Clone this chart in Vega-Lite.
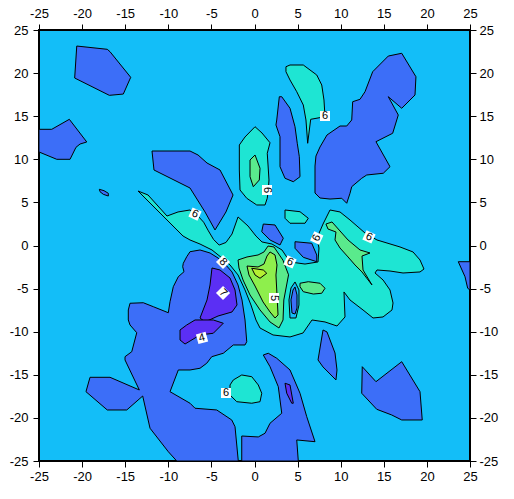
{
"$schema":"https://vega.github.io/schema/vega-lite/v6.json",
"width":431,"height":431,
"autosize":{"type":"none"},
"padding":{"left":39,"top":30,"right":44,"bottom":38},
"background":"white",
"config":{"view":{"fill":"#13BEF8","stroke":"black","strokeWidth":2},
"axis":{"domain":false,"grid":false,"ticks":true,"tickColor":"black","tickSize":6,"tickWidth":1,"labelFont":"Liberation Sans","labelFontSize":13,"labelColor":"black","labelFlush":false,"labelOverlap":false,"title":null}},
"datasets":{
"poly":[
{"id":"A","l":"b","i":0,"x":-20.62,"y":23.14},{"id":"A","l":"b","i":1,"x":-17.08,"y":22.76},{"id":"A","l":"b","i":2,"x":-16.76,"y":22.48},{"id":"A","l":"b","i":3,"x":-14.36,"y":19.51},{"id":"A","l":"b","i":4,"x":-15.22,"y":17.57},{"id":"A","l":"b","i":5,"x":-16.84,"y":17.42},{"id":"A","l":"b","i":6,"x":-20.86,"y":19.43},
{"id":"B","l":"b","i":0,"x":-25,"y":13.48},{"id":"B","l":"b","i":1,"x":-23.52,"y":13.48},{"id":"B","l":"b","i":2,"x":-21.48,"y":14.64},{"id":"B","l":"b","i":3,"x":-19.46,"y":12.01},{"id":"B","l":"b","i":4,"x":-20.24,"y":11.77},{"id":"B","l":"b","i":5,"x":-20.71,"y":11.39},{"id":"B","l":"b","i":6,"x":-21.4,"y":10.0},{"id":"B","l":"b","i":7,"x":-22.94,"y":10.0},{"id":"B","l":"b","i":8,"x":-25,"y":10.85},
{"id":"C","l":"b","i":0,"x":-11.89,"y":10.96},{"id":"C","l":"b","i":1,"x":-7.48,"y":10.96},{"id":"C","l":"b","i":2,"x":-6.55,"y":10.5},{"id":"C","l":"b","i":3,"x":-5.51,"y":9.57},{"id":"C","l":"b","i":4,"x":-4.0,"y":8.76},{"id":"C","l":"b","i":5,"x":-2.49,"y":5.86},{"id":"C","l":"b","i":6,"x":-3.31,"y":3.89},{"id":"C","l":"b","i":7,"x":-4.58,"y":1.8},{"id":"C","l":"b","i":8,"x":-5.74,"y":3.89},{"id":"C","l":"b","i":9,"x":-7.48,"y":6.67},{"id":"C","l":"b","i":10,"x":-11.66,"y":8.76},
{"id":"D","l":"b","i":0,"x":7.02,"y":9.22},{"id":"D","l":"b","i":1,"x":7.13,"y":10.38},{"id":"D","l":"b","i":2,"x":7.6,"y":11.43},{"id":"D","l":"b","i":3,"x":8.41,"y":12.82},{"id":"D","l":"b","i":4,"x":9.92,"y":13.86},{"id":"D","l":"b","i":5,"x":10.7,"y":13.86},{"id":"D","l":"b","i":6,"x":11.28,"y":14.56},{"id":"D","l":"b","i":7,"x":11.39,"y":16.68},{"id":"D","l":"b","i":8,"x":12.24,"y":16.96},{"id":"D","l":"b","i":9,"x":12.82,"y":17.84},{"id":"D","l":"b","i":10,"x":13.71,"y":20.16},{"id":"D","l":"b","i":11,"x":15.52,"y":21.98},{"id":"D","l":"b","i":12,"x":17.08,"y":22.3},{"id":"D","l":"b","i":13,"x":18.73,"y":19.58},{"id":"D","l":"b","i":14,"x":18.62,"y":17.46},{"id":"D","l":"b","i":15,"x":17.08,"y":15.92},{"id":"D","l":"b","i":16,"x":15.52,"y":17.26},{"id":"D","l":"b","i":17,"x":16.68,"y":15.14},{"id":"D","l":"b","i":18,"x":16.03,"y":13.02},{"id":"D","l":"b","i":19,"x":14.09,"y":12.04},{"id":"D","l":"b","i":20,"x":15.72,"y":9.14},{"id":"D","l":"b","i":21,"x":14.94,"y":8.38},{"id":"D","l":"b","i":22,"x":13.02,"y":8.18},{"id":"D","l":"b","i":23,"x":12.44,"y":7.8},{"id":"D","l":"b","i":24,"x":11.28,"y":6.82},{"id":"D","l":"b","i":25,"x":11.08,"y":6.06},{"id":"D","l":"b","i":26,"x":10.7,"y":4.9},{"id":"D","l":"b","i":27,"x":10.12,"y":5.48},{"id":"D","l":"b","i":28,"x":8.76,"y":5.39},{"id":"D","l":"b","i":29,"x":7.6,"y":5.51},{"id":"D","l":"b","i":30,"x":7.02,"y":6.09},
{"id":"E","l":"b","i":0,"x":2.88,"y":17.26},{"id":"E","l":"b","i":1,"x":3.16,"y":17.26},{"id":"E","l":"b","i":2,"x":4.12,"y":15.92},{"id":"E","l":"b","i":3,"x":4.7,"y":13.78},{"id":"E","l":"b","i":4,"x":4.96,"y":11.86},{"id":"E","l":"b","i":5,"x":5.2,"y":10.3},{"id":"E","l":"b","i":6,"x":5.28,"y":7.98},{"id":"E","l":"b","i":7,"x":4.5,"y":7.4},{"id":"E","l":"b","i":8,"x":3.54,"y":7.8},{"id":"E","l":"b","i":9,"x":2.96,"y":9.14},{"id":"E","l":"b","i":10,"x":2.96,"y":12.62},{"id":"E","l":"b","i":11,"x":2.49,"y":13.98},{"id":"E","l":"b","i":12,"x":2.58,"y":14.56},
{"id":"Q1","l":"b","i":0,"x":1.02,"y":2.49},{"id":"Q1","l":"b","i":1,"x":2.38,"y":2.38},{"id":"Q1","l":"b","i":2,"x":3.34,"y":0.84},{"id":"Q1","l":"b","i":3,"x":2.96,"y":0.06},{"id":"Q1","l":"b","i":4,"x":1.8,"y":0.64},{"id":"Q1","l":"b","i":5,"x":0.84,"y":1.6},
{"id":"Q2","l":"b","i":0,"x":4.7,"y":0.44},{"id":"Q2","l":"b","i":1,"x":6.64,"y":0.26},{"id":"Q2","l":"b","i":2,"x":7.22,"y":-1.1},{"id":"Q2","l":"b","i":3,"x":7.22,"y":-1.88},{"id":"Q2","l":"b","i":4,"x":5.66,"y":-1.37},{"id":"Q2","l":"b","i":5,"x":4.7,"y":-0.32},
{"id":"F","l":"b","i":0,"x":-14.44,"y":-6.7},{"id":"F","l":"b","i":1,"x":-12.9,"y":-6.64},{"id":"F","l":"b","i":2,"x":-11.74,"y":-7.1},{"id":"F","l":"b","i":3,"x":-10.0,"y":-7.8},{"id":"F","l":"b","i":4,"x":-9.8,"y":-6.52},{"id":"F","l":"b","i":5,"x":-9.42,"y":-4.78},{"id":"F","l":"b","i":6,"x":-8.84,"y":-3.62},{"id":"F","l":"b","i":7,"x":-8.18,"y":-3.04},{"id":"F","l":"b","i":8,"x":-8.33,"y":-2.46},{"id":"F","l":"b","i":9,"x":-8.26,"y":-2.06},{"id":"F","l":"b","i":10,"x":-7.86,"y":-1.3},{"id":"F","l":"b","i":11,"x":-7.48,"y":-0.72},{"id":"F","l":"b","i":12,"x":-6.32,"y":-0.52},{"id":"F","l":"b","i":13,"x":-5.16,"y":-0.87},{"id":"F","l":"b","i":14,"x":-4.23,"y":-1.45},{"id":"F","l":"b","i":15,"x":-3.42,"y":-2.15},{"id":"F","l":"b","i":16,"x":-2.61,"y":-3.07},{"id":"F","l":"b","i":17,"x":-1.91,"y":-4.58},{"id":"F","l":"b","i":18,"x":-1.45,"y":-6.32},{"id":"F","l":"b","i":19,"x":-1.1,"y":-8.64},{"id":"F","l":"b","i":20,"x":-0.9,"y":-11.16},{"id":"F","l":"b","i":21,"x":-1.1,"y":-11.54},{"id":"F","l":"b","i":22,"x":-2.46,"y":-11.54},{"id":"F","l":"b","i":23,"x":-3.62,"y":-12.5},{"id":"F","l":"b","i":24,"x":-4.96,"y":-12.9},{"id":"F","l":"b","i":25,"x":-5.54,"y":-13.66},{"id":"F","l":"b","i":26,"x":-6.32,"y":-14.24},{"id":"F","l":"b","i":27,"x":-7.48,"y":-14.44},{"id":"F","l":"b","i":28,"x":-8.84,"y":-14.44},{"id":"F","l":"b","i":29,"x":-9.8,"y":-16.96},{"id":"F","l":"b","i":30,"x":-7.48,"y":-18.3},{"id":"F","l":"b","i":31,"x":-6.9,"y":-18.88},{"id":"F","l":"b","i":32,"x":-4.38,"y":-19.08},{"id":"F","l":"b","i":33,"x":-2.64,"y":-20.24},{"id":"F","l":"b","i":34,"x":-2.26,"y":-21.02},{"id":"F","l":"b","i":35,"x":-1.88,"y":-25},{"id":"F","l":"b","i":36,"x":-9.02,"y":-25},{"id":"F","l":"b","i":37,"x":-10.0,"y":-23.92},{"id":"F","l":"b","i":38,"x":-12.12,"y":-21.2},{"id":"F","l":"b","i":39,"x":-12.97,"y":-17.46},{"id":"F","l":"b","i":40,"x":-14.82,"y":-19.08},{"id":"F","l":"b","i":41,"x":-17.08,"y":-19.08},{"id":"F","l":"b","i":42,"x":-19.55,"y":-16.96},{"id":"F","l":"b","i":43,"x":-19.08,"y":-15.29},{"id":"F","l":"b","i":44,"x":-16.76,"y":-15.29},{"id":"F","l":"b","i":45,"x":-13.36,"y":-16.76},{"id":"F","l":"b","i":46,"x":-15.02,"y":-13.28},{"id":"F","l":"b","i":47,"x":-15.02,"y":-12.9},{"id":"F","l":"b","i":48,"x":-14.24,"y":-12.32},{"id":"F","l":"b","i":49,"x":-13.66,"y":-10.12},{"id":"F","l":"b","i":50,"x":-14.44,"y":-9.22},{"id":"F","l":"b","i":51,"x":-14.64,"y":-8.64},{"id":"F","l":"b","i":52,"x":-14.64,"y":-7.48},
{"id":"Gb","l":"b","i":0,"x":-1.48,"y":-25},{"id":"Gb","l":"b","i":1,"x":-1.48,"y":-22.1},{"id":"Gb","l":"b","i":2,"x":0.44,"y":-22.21},{"id":"Gb","l":"b","i":3,"x":1.22,"y":-21.78},{"id":"Gb","l":"b","i":4,"x":1.8,"y":-20.62},{"id":"Gb","l":"b","i":5,"x":3.16,"y":-19.46},{"id":"Gb","l":"b","i":6,"x":2.76,"y":-16.38},{"id":"Gb","l":"b","i":7,"x":1.8,"y":-14.06},{"id":"Gb","l":"b","i":8,"x":1.02,"y":-12.7},{"id":"Gb","l":"b","i":9,"x":1.6,"y":-12.5},{"id":"Gb","l":"b","i":10,"x":2.58,"y":-13.08},{"id":"Gb","l":"b","i":11,"x":4.12,"y":-14.44},{"id":"Gb","l":"b","i":12,"x":5.28,"y":-17.14},{"id":"Gb","l":"b","i":13,"x":6.06,"y":-19.86},{"id":"Gb","l":"b","i":14,"x":7.02,"y":-22.76},{"id":"Gb","l":"b","i":15,"x":4.9,"y":-22.56},{"id":"Gb","l":"b","i":16,"x":5.08,"y":-25},
{"id":"H","l":"b","i":0,"x":7.95,"y":-9.8},{"id":"H","l":"b","i":1,"x":8.41,"y":-10.03},{"id":"H","l":"b","i":2,"x":9.34,"y":-12.47},{"id":"H","l":"b","i":3,"x":9.57,"y":-14.44},{"id":"H","l":"b","i":4,"x":9.45,"y":-15.6},{"id":"H","l":"b","i":5,"x":7.95,"y":-14.09},{"id":"H","l":"b","i":6,"x":7.37,"y":-13.28},
{"id":"I","l":"b","i":0,"x":12.5,"y":-14.06},{"id":"I","l":"b","i":1,"x":14.09,"y":-15.8},{"id":"I","l":"b","i":2,"x":17.08,"y":-13.48},{"id":"I","l":"b","i":3,"x":19.2,"y":-16.96},{"id":"I","l":"b","i":4,"x":19.46,"y":-20.24},{"id":"I","l":"b","i":5,"x":17.08,"y":-20.24},{"id":"I","l":"b","i":6,"x":15.92,"y":-19.66},{"id":"I","l":"b","i":7,"x":14.18,"y":-19.0},{"id":"I","l":"b","i":8,"x":12.44,"y":-17.14},
{"id":"J","l":"b","i":0,"x":23.64,"y":-1.88},{"id":"J","l":"b","i":1,"x":25,"y":-1.88},{"id":"J","l":"b","i":2,"x":25,"y":-5.16},{"id":"J","l":"b","i":3,"x":24.73,"y":-4.96},{"id":"J","l":"b","i":4,"x":24.42,"y":-3.62},
{"id":"K","l":"b","i":0,"x":-18.0,"y":6.52},{"id":"K","l":"b","i":1,"x":-17.46,"y":6.36},{"id":"K","l":"b","i":2,"x":-16.96,"y":6.06},{"id":"K","l":"b","i":3,"x":-16.96,"y":5.74},{"id":"K","l":"b","i":4,"x":-17.54,"y":5.94},{"id":"K","l":"b","i":5,"x":-17.92,"y":6.24},
{"id":"PA","l":"p","i":0,"x":-4.93,"y":-2.61},{"id":"PA","l":"p","i":1,"x":-4.0,"y":-2.84},{"id":"PA","l":"p","i":2,"x":-2.84,"y":-3.77},{"id":"PA","l":"p","i":3,"x":-2.26,"y":-5.16},{"id":"PA","l":"p","i":4,"x":-2.03,"y":-6.9},{"id":"PA","l":"p","i":5,"x":-2.61,"y":-7.71},{"id":"PA","l":"p","i":6,"x":-4.23,"y":-8.18},{"id":"PA","l":"p","i":7,"x":-5.74,"y":-8.87},{"id":"PA","l":"p","i":8,"x":-6.32,"y":-8.41},{"id":"PA","l":"p","i":9,"x":-5.51,"y":-6.32},{"id":"PA","l":"p","i":10,"x":-5.16,"y":-4.58},
{"id":"PB","l":"p","i":0,"x":-8.64,"y":-9.8},{"id":"PB","l":"p","i":1,"x":-7.86,"y":-9.22},{"id":"PB","l":"p","i":2,"x":-6.9,"y":-8.64},{"id":"PB","l":"p","i":3,"x":-4.78,"y":-8.64},{"id":"PB","l":"p","i":4,"x":-3.62,"y":-9.02},{"id":"PB","l":"p","i":5,"x":-4.78,"y":-10.18},{"id":"PB","l":"p","i":6,"x":-6.32,"y":-10.38},{"id":"PB","l":"p","i":7,"x":-6.9,"y":-10.73},{"id":"PB","l":"p","i":8,"x":-8.06,"y":-11.43},{"id":"PB","l":"p","i":9,"x":-8.64,"y":-10.96},
{"id":"PC","l":"p","i":0,"x":3.54,"y":-15.98},{"id":"PC","l":"p","i":1,"x":4.12,"y":-16.18},{"id":"PC","l":"p","i":2,"x":4.5,"y":-18.3},{"id":"PC","l":"p","i":3,"x":4.32,"y":-18.3},{"id":"PC","l":"p","i":4,"x":3.74,"y":-17.14},
{"id":"T1","l":"t","i":0,"x":3.65,"y":20.74},{"id":"T1","l":"t","i":1,"x":4.12,"y":20.94},{"id":"T1","l":"t","i":2,"x":5.66,"y":20.94},{"id":"T1","l":"t","i":3,"x":7.22,"y":19.78},{"id":"T1","l":"t","i":4,"x":7.8,"y":18.62},{"id":"T1","l":"t","i":5,"x":8.06,"y":16.88},{"id":"T1","l":"t","i":6,"x":8.18,"y":14.94},{"id":"T1","l":"t","i":7,"x":6.52,"y":14.64},{"id":"T1","l":"t","i":8,"x":6.17,"y":11.86},{"id":"T1","l":"t","i":9,"x":5.97,"y":14.56},{"id":"T1","l":"t","i":10,"x":5.66,"y":16.3},{"id":"T1","l":"t","i":11,"x":4.9,"y":17.84},{"id":"T1","l":"t","i":12,"x":4.12,"y":19.2},{"id":"T1","l":"t","i":13,"x":3.65,"y":20.16},
{"id":"T2","l":"t","i":0,"x":-1.76,"y":11.66},{"id":"T2","l":"t","i":1,"x":-1.1,"y":12.59},{"id":"T2","l":"t","i":2,"x":0.06,"y":13.78},{"id":"T2","l":"t","i":3,"x":0.87,"y":13.05},{"id":"T2","l":"t","i":4,"x":1.8,"y":11.92},{"id":"T2","l":"t","i":5,"x":1.48,"y":10.7},{"id":"T2","l":"t","i":6,"x":1.57,"y":9.34},{"id":"T2","l":"t","i":7,"x":1.68,"y":7.6},{"id":"T2","l":"t","i":8,"x":1.6,"y":6.44},{"id":"T2","l":"t","i":9,"x":1.48,"y":5.48},{"id":"T2","l":"t","i":10,"x":1.22,"y":4.7},{"id":"T2","l":"t","i":11,"x":0.26,"y":4.7},{"id":"T2","l":"t","i":12,"x":-0.9,"y":5.48},{"id":"T2","l":"t","i":13,"x":-1.68,"y":6.44},{"id":"T2","l":"t","i":14,"x":-1.76,"y":8.76},
{"id":"TS","l":"t","i":0,"x":3.54,"y":4.12},{"id":"TS","l":"t","i":1,"x":5.28,"y":3.92},{"id":"TS","l":"t","i":2,"x":6.24,"y":3.16},{"id":"TS","l":"t","i":3,"x":5.86,"y":2.58},{"id":"TS","l":"t","i":4,"x":4.12,"y":2.58},{"id":"TS","l":"t","i":5,"x":3.54,"y":3.16},
{"id":"TB","l":"t","i":0,"x":-2.84,"y":-16.18},{"id":"TB","l":"t","i":1,"x":-2.46,"y":-15.6},{"id":"TB","l":"t","i":2,"x":-1.48,"y":-15.02},{"id":"TB","l":"t","i":3,"x":-0.32,"y":-15.22},{"id":"TB","l":"t","i":4,"x":0.44,"y":-16.18},{"id":"TB","l":"t","i":5,"x":0.84,"y":-17.14},{"id":"TB","l":"t","i":6,"x":0.64,"y":-18.12},{"id":"TB","l":"t","i":7,"x":-0.32,"y":-18.3},{"id":"TB","l":"t","i":8,"x":-2.06,"y":-18.12},{"id":"TB","l":"t","i":9,"x":-2.84,"y":-17.34},
{"id":"T3","l":"t","i":0,"x":-13.51,"y":6.32},{"id":"T3","l":"t","i":1,"x":-12.35,"y":5.86},{"id":"T3","l":"t","i":2,"x":-10.15,"y":3.42},{"id":"T3","l":"t","i":3,"x":-8.87,"y":3.89},{"id":"T3","l":"t","i":4,"x":-7.48,"y":4.12},{"id":"T3","l":"t","i":5,"x":-6.67,"y":3.54},{"id":"T3","l":"t","i":6,"x":-5.9,"y":2.7},{"id":"T3","l":"t","i":7,"x":-5.35,"y":1.7},{"id":"T3","l":"t","i":8,"x":-4.75,"y":0.7},{"id":"T3","l":"t","i":9,"x":-4.1,"y":0.05},{"id":"T3","l":"t","i":10,"x":-3.31,"y":0.35},{"id":"T3","l":"t","i":11,"x":-2.61,"y":1.33},{"id":"T3","l":"t","i":12,"x":-1.91,"y":3.31},{"id":"T3","l":"t","i":13,"x":-0.75,"y":2.26},{"id":"T3","l":"t","i":14,"x":0.17,"y":1.1},{"id":"T3","l":"t","i":15,"x":0.87,"y":0.41},{"id":"T3","l":"t","i":16,"x":2.03,"y":0.17},{"id":"T3","l":"t","i":17,"x":3.19,"y":-0.52},{"id":"T3","l":"t","i":18,"x":4.12,"y":-1.91},{"id":"T3","l":"t","i":19,"x":5.86,"y":-2.15},{"id":"T3","l":"t","i":20,"x":7.37,"y":-1.91},{"id":"T3","l":"t","i":21,"x":7.48,"y":-0.29},{"id":"T3","l":"t","i":22,"x":7.25,"y":0.87},{"id":"T3","l":"t","i":23,"x":7.95,"y":2.49},{"id":"T3","l":"t","i":24,"x":8.76,"y":4.12},{"id":"T3","l":"t","i":25,"x":9.92,"y":3.89},{"id":"T3","l":"t","i":26,"x":11.08,"y":2.96},{"id":"T3","l":"t","i":27,"x":12.82,"y":1.45},{"id":"T3","l":"t","i":28,"x":14.21,"y":0.64},{"id":"T3","l":"t","i":29,"x":16.88,"y":-0.17},{"id":"T3","l":"t","i":30,"x":18.39,"y":-0.75},{"id":"T3","l":"t","i":31,"x":19.2,"y":-1.68},{"id":"T3","l":"t","i":32,"x":19.66,"y":-2.73},{"id":"T3","l":"t","i":33,"x":19.2,"y":-3.07},{"id":"T3","l":"t","i":34,"x":17.23,"y":-3.19},{"id":"T3","l":"t","i":35,"x":15.72,"y":-2.96},{"id":"T3","l":"t","i":36,"x":14.21,"y":-2.84},{"id":"T3","l":"t","i":37,"x":13.98,"y":-3.19},{"id":"T3","l":"t","i":38,"x":14.91,"y":-4.0},{"id":"T3","l":"t","i":39,"x":15.72,"y":-5.16},{"id":"T3","l":"t","i":40,"x":16.07,"y":-6.67},{"id":"T3","l":"t","i":41,"x":15.95,"y":-7.48},{"id":"T3","l":"t","i":42,"x":14.91,"y":-8.29},{"id":"T3","l":"t","i":43,"x":13.75,"y":-8.41},{"id":"T3","l":"t","i":44,"x":12.59,"y":-7.48},{"id":"T3","l":"t","i":45,"x":11.08,"y":-6.32},{"id":"T3","l":"t","i":46,"x":10.38,"y":-5.39},{"id":"T3","l":"t","i":47,"x":10.5,"y":-8.29},{"id":"T3","l":"t","i":48,"x":9.57,"y":-9.34},{"id":"T3","l":"t","i":49,"x":8.18,"y":-8.87},{"id":"T3","l":"t","i":50,"x":6.67,"y":-8.64},{"id":"T3","l":"t","i":51,"x":5.63,"y":-10.15},{"id":"T3","l":"t","i":52,"x":4.12,"y":-10.61},{"id":"T3","l":"t","i":53,"x":2.15,"y":-10.38},{"id":"T3","l":"t","i":54,"x":0.64,"y":-9.57},{"id":"T3","l":"t","i":55,"x":0.17,"y":-8.64},{"id":"T3","l":"t","i":56,"x":-0.41,"y":-6.9},{"id":"T3","l":"t","i":57,"x":-1.1,"y":-5.16},{"id":"T3","l":"t","i":58,"x":-1.91,"y":-3.42},{"id":"T3","l":"t","i":59,"x":-2.84,"y":-2.26},{"id":"T3","l":"t","i":60,"x":-3.77,"y":-1.45},{"id":"T3","l":"t","i":61,"x":-4.93,"y":-0.52},{"id":"T3","l":"t","i":62,"x":-6.32,"y":0.17},{"id":"T3","l":"t","i":63,"x":-7.48,"y":0.64},{"id":"T3","l":"t","i":64,"x":-8.29,"y":1.1},{"id":"T3","l":"t","i":65,"x":-10.38,"y":3.19},{"id":"T3","l":"t","i":66,"x":-13.28,"y":6.09},
{"id":"HL","l":"h","i":0,"x":4.7,"y":-4.23},{"id":"HL","l":"h","i":1,"x":5.16,"y":-5.16},{"id":"HL","l":"h","i":2,"x":5.16,"y":-6.9},{"id":"HL","l":"h","i":3,"x":4.81,"y":-8.41},{"id":"HL","l":"h","i":4,"x":4.12,"y":-8.41},{"id":"HL","l":"h","i":5,"x":4.0,"y":-6.32},{"id":"HL","l":"h","i":6,"x":4.23,"y":-4.93},
{"id":"BS","l":"b2","i":0,"x":4.7,"y":-4.81},{"id":"BS","l":"b2","i":1,"x":4.93,"y":-5.74},{"id":"BS","l":"b2","i":2,"x":4.93,"y":-7.25},{"id":"BS","l":"b2","i":3,"x":4.7,"y":-7.95},{"id":"BS","l":"b2","i":4,"x":4.35,"y":-7.83},{"id":"BS","l":"b2","i":5,"x":4.23,"y":-6.32},{"id":"BS","l":"b2","i":6,"x":4.47,"y":-5.16},
{"id":"G1","l":"g","i":0,"x":-0.52,"y":9.92},{"id":"G1","l":"g","i":1,"x":0.06,"y":10.5},{"id":"G1","l":"g","i":2,"x":0.64,"y":8.96},{"id":"G1","l":"g","i":3,"x":0.56,"y":7.6},{"id":"G1","l":"g","i":4,"x":-0.14,"y":6.82},{"id":"G1","l":"g","i":5,"x":-0.52,"y":7.98},
{"id":"G2","l":"g","i":0,"x":8.29,"y":2.49},{"id":"G2","l":"g","i":1,"x":8.99,"y":2.73},{"id":"G2","l":"g","i":2,"x":10.85,"y":0.64},{"id":"G2","l":"g","i":3,"x":12.24,"y":-0.52},{"id":"G2","l":"g","i":4,"x":13.4,"y":-0.87},{"id":"G2","l":"g","i":5,"x":12.47,"y":-1.22},{"id":"G2","l":"g","i":6,"x":12.59,"y":-2.84},{"id":"G2","l":"g","i":7,"x":13.63,"y":-4.58},{"id":"G2","l":"g","i":8,"x":12.47,"y":-3.07},{"id":"G2","l":"g","i":9,"x":11.66,"y":-2.26},{"id":"G2","l":"g","i":10,"x":10.85,"y":-1.33},{"id":"G2","l":"g","i":11,"x":9.92,"y":-0.29},{"id":"G2","l":"g","i":12,"x":9.34,"y":0.64},{"id":"G2","l":"g","i":13,"x":9.45,"y":1.57},{"id":"G2","l":"g","i":14,"x":8.53,"y":1.91},
{"id":"G3","l":"g","i":0,"x":-1.91,"y":-1.68},{"id":"G3","l":"g","i":1,"x":-0.87,"y":-1.33},{"id":"G3","l":"g","i":2,"x":0.41,"y":-1.1},{"id":"G3","l":"g","i":3,"x":1.1,"y":-0.75},{"id":"G3","l":"g","i":4,"x":1.57,"y":-0.06},{"id":"G3","l":"g","i":5,"x":2.26,"y":-0.17},{"id":"G3","l":"g","i":6,"x":3.3,"y":-1.7},{"id":"G3","l":"g","i":7,"x":3.95,"y":-3.4},{"id":"G3","l":"g","i":8,"x":3.4,"y":-6.32},{"id":"G3","l":"g","i":9,"x":3.31,"y":-8.64},{"id":"G3","l":"g","i":10,"x":2.84,"y":-9.57},{"id":"G3","l":"g","i":11,"x":1.8,"y":-8.87},{"id":"G3","l":"g","i":12,"x":0.64,"y":-7.48},{"id":"G3","l":"g","i":13,"x":-0.52,"y":-5.74},{"id":"G3","l":"g","i":14,"x":-1.33,"y":-4.0},{"id":"G3","l":"g","i":15,"x":-1.8,"y":-2.61},
{"id":"G4","l":"g","i":0,"x":5.28,"y":-4.38},{"id":"G4","l":"g","i":1,"x":6.24,"y":-4.2},{"id":"G4","l":"g","i":2,"x":7.6,"y":-4.38},{"id":"G4","l":"g","i":3,"x":8.18,"y":-4.96},{"id":"G4","l":"g","i":4,"x":7.8,"y":-5.54},{"id":"G4","l":"g","i":5,"x":6.82,"y":-5.63},{"id":"G4","l":"g","i":6,"x":5.66,"y":-5.36},{"id":"G4","l":"g","i":7,"x":5.28,"y":-4.78},
{"id":"YG","l":"y","i":0,"x":-0.87,"y":-2.38},{"id":"YG","l":"y","i":1,"x":0.41,"y":-2.49},{"id":"YG","l":"y","i":2,"x":1.1,"y":-2.15},{"id":"YG","l":"y","i":3,"x":1.45,"y":-1.22},{"id":"YG","l":"y","i":4,"x":1.8,"y":-0.75},{"id":"YG","l":"y","i":5,"x":2.38,"y":-1.1},{"id":"YG","l":"y","i":6,"x":2.61,"y":-2.26},{"id":"YG","l":"y","i":7,"x":2.49,"y":-3.42},{"id":"YG","l":"y","i":8,"x":2.61,"y":-5.74},{"id":"YG","l":"y","i":9,"x":2.73,"y":-8.06},{"id":"YG","l":"y","i":10,"x":2.38,"y":-8.41},{"id":"YG","l":"y","i":11,"x":1.8,"y":-7.71},{"id":"YG","l":"y","i":12,"x":0.99,"y":-6.55},{"id":"YG","l":"y","i":13,"x":0.06,"y":-4.7},{"id":"YG","l":"y","i":14,"x":-0.64,"y":-3.42},
{"id":"BR","l":"r","i":0,"x":-0.32,"y":-2.64},{"id":"BR","l":"r","i":1,"x":1.02,"y":-2.84},{"id":"BR","l":"r","i":2,"x":1.42,"y":-3.22},{"id":"BR","l":"r","i":3,"x":0.64,"y":-3.8},{"id":"BR","l":"r","i":4,"x":0.06,"y":-3.42}
],
"lab":[
{"k":"L1","t":"6","x":8.18,"y":15.02},{"k":"L2","t":"6","x":1.45,"y":6.44},{"k":"L3","t":"6","x":-6.9,"y":3.65},{"k":"L4","t":"6","x":7.22,"y":0.87},{"k":"L5","t":"6","x":13.28,"y":0.99},{"k":"L6","t":"8","x":-3.65,"y":-1.91},{"k":"L7","t":"6","x":4.12,"y":-1.91},{"k":"L8","t":"7","x":-3.65,"y":-5.51},{"k":"L9","t":"5","x":2.26,"y":-6.09},{"k":"L10","t":"4","x":-6.09,"y":-10.73},{"k":"L11","t":"6","x":-3.31,"y":-17.11}
]},
"data":{"name":"poly"},
"encoding":{
"x":{"field":"x","type":"quantitative","scale":{"domain":[-25,25],"nice":false,"zero":false},"axis":null},
"y":{"field":"y","type":"quantitative","scale":{"domain":[-25,25],"nice":false,"zero":false},"axis":null}
},
"layer":[
{"transform":[{"filter":"datum.l==='b'"}],"mark":{"type":"line","filled":true,"fill":"#3C6EF8","stroke":"black","strokeWidth":1,"interpolate":"linear-closed","clip":true},
"encoding":{"detail":{"field":"id"},"order":{"field":"i","type":"quantitative"},
"x":{"field":"x","type":"quantitative","scale":{"domain":[-25,25],"nice":false,"zero":false},"axis":{"orient":"bottom","values":[-25,-20,-15,-10,-5,0,5,10,15,20,25],"labelExpr":"''+datum.value","labelPadding":3}},
"y":{"field":"y","type":"quantitative","scale":{"domain":[-25,25],"nice":false,"zero":false},"axis":{"orient":"left","values":[-25,-20,-15,-10,-5,0,5,10,15,20,25],"labelExpr":"''+datum.value","labelPadding":5}}}},
{"transform":[{"filter":"datum.l==='p'"}],"mark":{"type":"line","filled":true,"fill":"#5B2FF4","stroke":"black","strokeWidth":1,"interpolate":"linear-closed","clip":true},
"encoding":{"detail":{"field":"id"},"order":{"field":"i","type":"quantitative"},
"x":{"field":"x","type":"quantitative","scale":{"domain":[-25,25],"nice":false,"zero":false},"axis":{"orient":"top","values":[-25,-20,-15,-10,-5,0,5,10,15,20,25],"labelExpr":"''+datum.value","labelPadding":4}},
"y":{"field":"y","type":"quantitative","scale":{"domain":[-25,25],"nice":false,"zero":false},"axis":{"orient":"right","values":[-25,-20,-15,-10,-5,0,5,10,15,20,25],"labelExpr":"''+datum.value","labelPadding":3}}}},
{"transform":[{"filter":"datum.l==='t'"}],"mark":{"type":"line","filled":true,"fill":"#1EE5D3","stroke":"black","strokeWidth":1,"interpolate":"linear-closed","clip":true},"encoding":{"detail":{"field":"id"},"order":{"field":"i","type":"quantitative"}}},
{"transform":[{"filter":"datum.l==='h'"}],"mark":{"type":"line","filled":true,"fill":"#13BEF8","stroke":"black","strokeWidth":1,"interpolate":"linear-closed","clip":true},"encoding":{"detail":{"field":"id"},"order":{"field":"i","type":"quantitative"}}},
{"transform":[{"filter":"datum.l==='b2'"}],"mark":{"type":"line","filled":true,"fill":"#3C6EF8","stroke":"black","strokeWidth":1,"interpolate":"linear-closed","clip":true},"encoding":{"detail":{"field":"id"},"order":{"field":"i","type":"quantitative"}}},
{"transform":[{"filter":"datum.l==='g'"}],"mark":{"type":"line","filled":true,"fill":"#5AEA8C","stroke":"black","strokeWidth":1,"interpolate":"linear-closed","clip":true},"encoding":{"detail":{"field":"id"},"order":{"field":"i","type":"quantitative"}}},
{"transform":[{"filter":"datum.l==='y'"}],"mark":{"type":"line","filled":true,"fill":"#8EEF4C","stroke":"black","strokeWidth":1,"interpolate":"linear-closed","clip":true},"encoding":{"detail":{"field":"id"},"order":{"field":"i","type":"quantitative"}}},
{"transform":[{"filter":"datum.l==='r'"}],"mark":{"type":"line","filled":true,"fill":"#B5F032","stroke":"black","strokeWidth":1,"interpolate":"linear-closed","clip":true},"encoding":{"detail":{"field":"id"},"order":{"field":"i","type":"quantitative"}}},
{"data":{"name":"lab"},"transform":[{"filter":{"field":"k","oneOf":["L1","L11"]}}],"layer":[
{"mark":{"type":"point","shape":"square","filled":true,"fill":"white","strokeWidth":0,"opacity":1,"size":100,"angle":0}},
{"mark":{"type":"text","angle":0,"fontSize":11,"font":"Liberation Sans","fill":"black"},"encoding":{"text":{"field":"t"}}}]},
{"data":{"name":"lab"},"transform":[{"filter":{"field":"k","oneOf":["L3","L5","L7"]}}],"layer":[
{"mark":{"type":"point","shape":"square","filled":true,"fill":"white","strokeWidth":0,"opacity":1,"size":100,"angle":25}},
{"mark":{"type":"text","angle":25,"fontSize":11,"font":"Liberation Sans","fill":"black"},"encoding":{"text":{"field":"t"}}}]},
{"data":{"name":"lab"},"transform":[{"filter":{"field":"k","oneOf":["L6","L8"]}}],"layer":[
{"mark":{"type":"point","shape":"square","filled":true,"fill":"white","strokeWidth":0,"opacity":1,"size":100,"angle":45}},
{"mark":{"type":"text","angle":45,"fontSize":11,"font":"Liberation Sans","fill":"black"},"encoding":{"text":{"field":"t"}}}]},
{"data":{"name":"lab"},"transform":[{"filter":{"field":"k","oneOf":["L2","L9"]}}],"layer":[
{"mark":{"type":"point","shape":"square","filled":true,"fill":"white","strokeWidth":0,"opacity":1,"size":100,"angle":90}},
{"mark":{"type":"text","angle":90,"fontSize":11,"font":"Liberation Sans","fill":"black"},"encoding":{"text":{"field":"t"}}}]},
{"data":{"name":"lab"},"transform":[{"filter":{"field":"k","oneOf":["L4"]}}],"layer":[
{"mark":{"type":"point","shape":"square","filled":true,"fill":"white","strokeWidth":0,"opacity":1,"size":100,"angle":-65}},
{"mark":{"type":"text","angle":-65,"fontSize":11,"font":"Liberation Sans","fill":"black"},"encoding":{"text":{"field":"t"}}}]},
{"data":{"name":"lab"},"transform":[{"filter":{"field":"k","oneOf":["L10"]}}],"layer":[
{"mark":{"type":"point","shape":"square","filled":true,"fill":"white","strokeWidth":0,"opacity":1,"size":100,"angle":-15}},
{"mark":{"type":"text","angle":-15,"fontSize":11,"font":"Liberation Sans","fill":"black"},"encoding":{"text":{"field":"t"}}}]}
],
"resolve":{"axis":{"x":"independent","y":"independent"}}
}
